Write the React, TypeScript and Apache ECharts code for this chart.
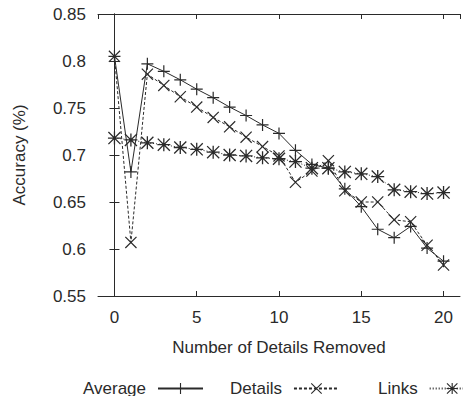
import React, { useEffect, useRef } from "react";
import * as echarts from "echarts";

const xValues = [0, 1, 2, 3, 4, 5, 6, 7, 8, 9, 10, 11, 12, 13, 14, 15, 16, 17, 18, 19, 20];
const averageValues = [0.805, 0.682, 0.797, 0.789, 0.780, 0.770, 0.761, 0.751, 0.742, 0.732, 0.723, 0.705, 0.690, 0.686, 0.664, 0.645, 0.621, 0.612, 0.624, 0.601, 0.587];
const detailsValues = [0.805, 0.607, 0.786, 0.774, 0.762, 0.751, 0.740, 0.730, 0.719, 0.709, 0.699, 0.671, 0.683, 0.694, 0.662, 0.650, 0.650, 0.631, 0.629, 0.604, 0.583];
const linksValues = [0.718, 0.716, 0.713, 0.711, 0.708, 0.706, 0.703, 0.700, 0.699, 0.697, 0.696, 0.693, 0.686, 0.686, 0.682, 0.680, 0.677, 0.663, 0.661, 0.659, 0.660];
const seriesNames = ["Average", "Details", "Links"];

const PLUS = "M-0.5,-5 L0.5,-5 L0.5,5 L-0.5,5 Z M-5,-0.5 L5,-0.5 L5,0.5 L-5,0.5 Z";
const CROSS = "M-5,-4.3 L-4.3,-5 L5,4.3 L4.3,5 Z M4.3,-5 L5,-4.3 L-4.3,5 L-5,4.3 Z";
const STAR = PLUS + " " + CROSS;

const INK = "#2a2a2a";
const FONT = "Liberation Sans";
const FS = 17;

export default function App() {
  const ref = useRef<HTMLDivElement>(null);
  useEffect(() => {
    if (!ref.current) return;
    const chart = echarts.init(ref.current, undefined, { renderer: "svg" });
    const pairs = (vals: number[]) => xValues.map((x, i) => [x, vals[i]]);
    const mk = (name: string, vals: number[], sym: string, type: any, size: number) => ({
      name,
      type: "line",
      data: pairs(vals),
      symbol: "path://" + sym,
      symbolSize: size,
      showAllSymbol: true,
      lineStyle: { color: INK, width: 1, type },
      itemStyle: { color: INK },
      emphasis: { disabled: true },
    });
    const fmtX = (v: number) => (v % 5 === 0 ? String(v) : "");
    const legendText = { color: INK, fontSize: FS, fontFamily: FONT, padding: [0, 7, 0, 0] };
    const legendBase = { top: 380, padding: 0, align: "right", itemWidth: 45, itemHeight: 14, textStyle: legendText };
    chart.setOption({
      animation: false,
      textStyle: { fontFamily: FONT },
      grid: { left: 98, right: 11, top: 14, bottom: 108 },
      xAxis: [
        {
          type: "value",
          min: -1,
          max: 21,
          splitNumber: 5,
          name: "Number of Details Removed",
          nameLocation: "middle",
          nameGap: 43,
          nameTextStyle: { color: INK, fontSize: FS, fontFamily: FONT },
          axisLine: { lineStyle: { color: INK, width: 1 } },
          axisTick: { inside: true, length: 5, lineStyle: { color: INK } },
          axisLabel: { color: INK, fontSize: FS, margin: 13, showMinLabel: false, showMaxLabel: false, formatter: fmtX },
          splitLine: { show: false },
        },
        {
          type: "value",
          position: "top",
          min: -1,
          max: 21,
          splitNumber: 5,
          axisLine: { show: true, lineStyle: { color: INK, width: 1 } },
          axisTick: { show: true, inside: true, length: 5, lineStyle: { color: INK } },
          axisLabel: { show: false },
          splitLine: { show: false },
        },
      ],
      yAxis: [
        {
          type: "value",
          min: 0.55,
          max: 0.85,
          interval: 0.05,
          name: "Accuracy (%)",
          nameLocation: "middle",
          nameGap: 70,
          nameTextStyle: { color: INK, fontSize: FS, fontFamily: FONT },
          axisLine: { show: true, lineStyle: { color: INK, width: 1 } },
          axisTick: { show: true, inside: true, length: 5, lineStyle: { color: INK } },
          axisLabel: { color: INK, fontSize: FS, margin: 12, formatter: (v: number) => String(+v.toFixed(2)) },
          splitLine: { show: false },
        },
        {
          type: "value",
          position: "right",
          min: 0.55,
          max: 0.85,
          interval: 0.05,
          axisLine: { show: true, lineStyle: { color: INK, width: 1 } },
          axisTick: { show: true, inside: true, length: 5, lineStyle: { color: INK } },
          axisLabel: { show: false },
          splitLine: { show: false },
        },
      ],
      legend: [
        { ...legendBase, data: [seriesNames[0]], left: 83 },
        { ...legendBase, data: [seriesNames[1]], left: 230 },
        { ...legendBase, data: [seriesNames[2]], left: 378 },
      ],
      series: [
        mk(seriesNames[0], averageValues, PLUS, "solid", 12),
        mk(seriesNames[1], detailsValues, CROSS, [3, 2], 12),
        mk(seriesNames[2], linksValues, STAR, [1, 2], 13),
      ],
    });
    return () => chart.dispose();
  }, []);
  return <div ref={ref} style={{ width: 471, height: 404, margin: -8 }} />;
}
